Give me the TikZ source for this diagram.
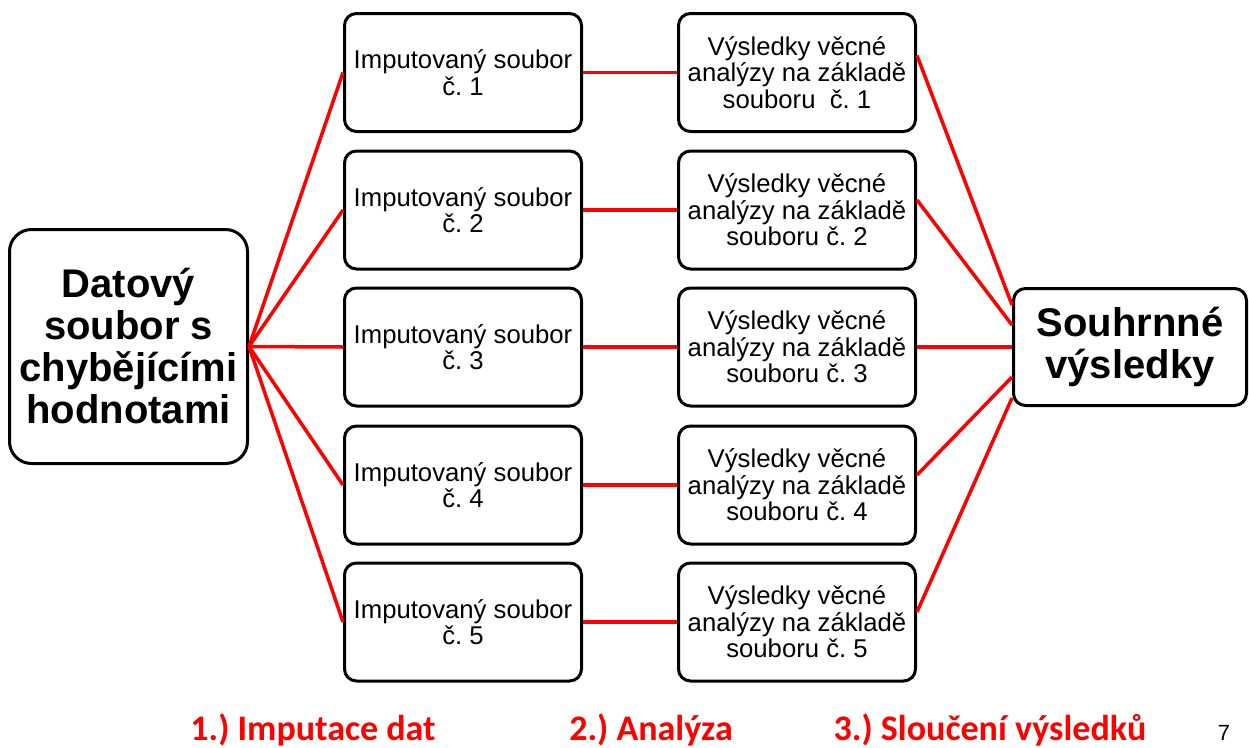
\documentclass[tikz,border=0pt]{standalone}
\usepackage{fontspec}
\setmainfont{Liberation Sans}
\newfontfamily\labelfont{Carlito}
\frenchspacing
\begin{document}
\begin{tikzpicture}[x=1pt,y=-1pt,
  box/.style={draw=black, line width=3pt, fill=white, rounded corners=12pt,
    minimum width=237pt, minimum height=118pt, align=center, inner sep=0pt,
    font=\fontsize{25.7}{26.5}\selectfont},
  bigbox/.style={draw=black, line width=3pt, fill=white, align=center, inner sep=0pt,
    font=\bfseries\fontsize{40}{42}\selectfont},
  link/.style={draw=red, line width=3.5pt},
  steplabel/.style={text=red, anchor=base, inner sep=0pt,
    font=\labelfont\bfseries\fontsize{36}{40}\selectfont}]
\useasboundingbox (0,0) rectangle (1249,747);

\node[bigbox, rounded corners=22pt, minimum width=238pt, minimum height=234pt] (L) at (128.5,346.5)
  {Datový\\soubor s\\chybějícími\\hodnotami};

\node[box] (M1) at (463,72.5) {Imputovaný soubor\\č. 1};
\node[box] (M2) at (463,210) {Imputovaný soubor\\č. 2};
\node[box] (M3) at (463,347) {Imputovaný soubor\\č. 3};
\node[box] (M4) at (463,485) {Imputovaný soubor\\č. 4};
\node[box] (M5) at (463,622) {Imputovaný soubor\\č. 5};

\node[box] (R1) at (797,72.5) {Výsledky věcné\\analýzy na základě\\souboru~\ č. 1};
\node[box] (R2) at (797,210) {Výsledky věcné\\analýzy na základě\\souboru č. 2};
\node[box] (R3) at (797,347) {Výsledky věcné\\analýzy na základě\\souboru č. 3};
\node[box] (R4) at (797,485) {Výsledky věcné\\analýzy na základě\\souboru č. 4};
\node[box] (R5) at (797,622) {Výsledky věcné\\analýzy na základě\\souboru č. 5};

\node[bigbox, rounded corners=12pt, minimum width=233pt, minimum height=117pt] (F) at (1130,347)
  {Souhrnné\\výsledky};

\foreach \i in {1,...,5} {
  \draw[link] (L.east) -- (M\i.west);
  \draw[link] (M\i.east) -- (R\i.west);
}
\draw[link] ([yshift=17pt]R1.east) -- ([yshift=42pt]F.west);
\draw[link] ([yshift=10pt]R2.east) -- ([yshift=22pt]F.west);
\draw[link] (R3.east) -- (F.west);
\draw[link] ([yshift=10pt]R4.east) -- ([yshift=-30pt]F.west);
\draw[link] ([yshift=10pt]R5.east) -- ([yshift=-51pt]F.west);

\node[steplabel] (S1) at (313,740) {1.) Imputace dat};
\node[steplabel] (S2) at (651,740) {2.) Analýza};
\node[steplabel] (S3) at (990,740) {3.) Sloučení výsledků};
\node[anchor=base, inner sep=0pt, font=\fontsize{22}{24}\selectfont] (P) at (1224,740) {7};
\end{tikzpicture}
\end{document}
